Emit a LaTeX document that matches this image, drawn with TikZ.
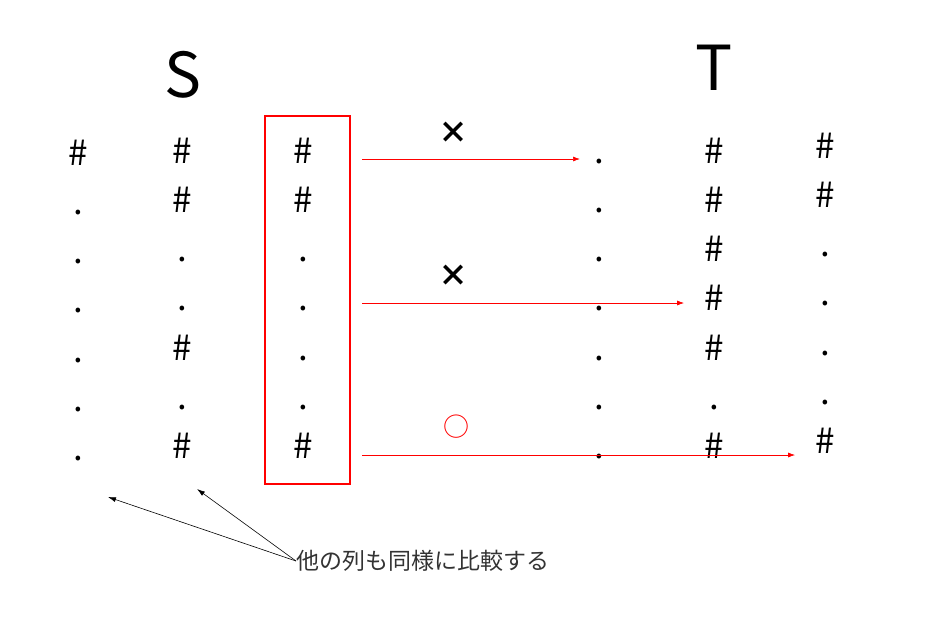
\documentclass[tikz,border=0pt]{standalone}
\usepackage{fontspec}
\setmainfont{Noto Sans CJK JP}
\usetikzlibrary{positioning, arrows.meta}

\begin{document}
\begin{tikzpicture}[x=1pt, y=-1pt,
    cell/.style={anchor=base, inner sep=0pt, font=\fontsize{35}{35}\selectfont},
    title/.style={anchor=base, inner sep=0pt, font=\fontsize{62}{62}\selectfont},
    verdict/.style={inner sep=0pt, font=\fontsize{30}{30}\selectfont\bfseries},
    compare/.style={red, line width=0.7pt, -{Latex[length=7pt, width=5pt]}},
    note/.style={black, line width=0.6pt, -{Latex[length=8pt, width=5pt]}}]
  \useasboundingbox (0,0) rectangle (925,619);
  \node[title] (s) at (183, 97) {S};
  \node[title] (t) at (714, 90) {T};
  % columns of S
  \foreach \sym [count=\r] in {\#,.,.,.,.,.,.}
    \node[cell] (s1-\r) at (78, 116+49.2*\r) {\sym};
  \foreach \sym [count=\r] in {\#,\#,.,.,\#,.,\#}
    \node[cell] (s2-\r) at (182, 114+49.2*\r) {\sym};
  \foreach \sym [count=\r] in {\#,\#,.,.,.,.,\#}
    \node[cell] (s3-\r) at (303, 114+49.2*\r) {\sym};
  % columns of T
  \foreach \sym [count=\r] in {.,.,.,.,.,.,.}
    \node[cell] (t1-\r) at (599, 114+49.2*\r) {\sym};
  \foreach \sym [count=\r] in {\#,\#,\#,\#,\#,.,\#}
    \node[cell] (t2-\r) at (714, 114+49.2*\r) {\sym};
  \foreach \sym [count=\r] in {\#,\#,.,.,.,.,\#}
    \node[cell] (t3-\r) at (825, 109+49.2*\r) {\sym};
  \draw[red, line width=2.2pt] (265, 116) rectangle (350, 484);
  \coordinate (box) at (350, 116);
  % comparisons
  \draw[compare] ([xshift=12pt]box |- 0,159) -- (580, 159) coordinate (e1);
  \draw[compare] ([xshift=12pt]box |- 0,303) -- ([xshift=-20pt]t2-4.base west |- 0,303);
  \draw[compare] ([xshift=12pt]box |- 0,455) -- ([xshift=-20pt]t3-7.base west |- 0,455);
  \node[verdict] (ng1) at (453, 133) {×};
  \node[verdict] (ng2) at (453, 276) {×};
  \node[inner sep=0pt, red, font=\fontsize{26}{26}\selectfont] (ok) at (456, 427) {○};
  % note
  \node[anchor=west, inner sep=0pt, text=black!80, font=\fontsize{23}{23}\selectfont] (txt) at (296, 561) {他の列も同様に比較する};
  \draw[note] (txt.west) -- (108, 497);
  \draw[note] (txt.west) -- (197, 489);
\end{tikzpicture}
\end{document}
